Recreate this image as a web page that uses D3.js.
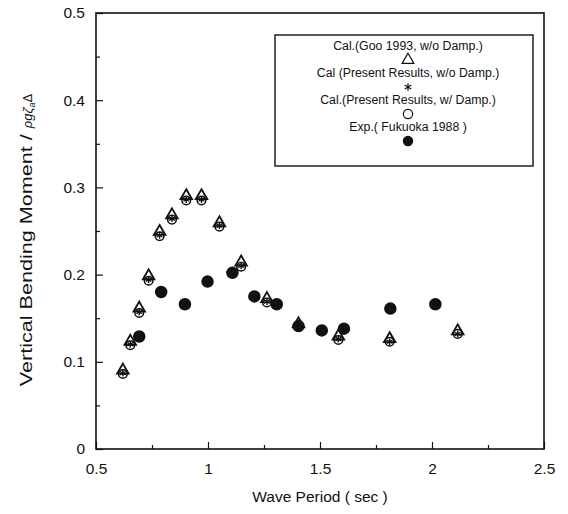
<!DOCTYPE html>
<html>
<head>
<meta charset="utf-8">
<script src="https://cdn.jsdelivr.net/npm/d3@7"></script>
<style>
  body { margin: 0; background: #fff; }
  text { font-family: "Liberation Sans", Arial, sans-serif; fill: #111; }
</style>
</head>
<body>
<div id="chart"></div>
<script>
const WIDTH = 568;
const HEIGHT = 514;
const MARGIN = { TOP: 13, BOTTOM: 65, LEFT: 96, RIGHT: 24 };

// calculated results share the same wave periods
const periods_cal = [0.62, 0.653, 0.693, 0.735, 0.784, 0.839, 0.903, 0.971, 1.051, 1.148, 1.263, 1.404, 1.582, 1.811, 2.115];
const goo_nodamp = [0.088, 0.121, 0.159, 0.196, 0.247, 0.266, 0.288, 0.288, 0.257, 0.212, 0.170, 0.141, 0.127, 0.124, 0.133];
const present_nodamp = [0.087, 0.120, 0.157, 0.194, 0.245, 0.264, 0.286, 0.286, 0.256, 0.210, 0.169, 0.140, 0.126, 0.123, 0.132];
const present_damp = [0.086, 0.119, 0.156, 0.193, 0.244, 0.263, 0.285, 0.285, 0.255, 0.209, 0.168, 0.140, 0.125, 0.123, 0.132];

const periods_exp = [0.693, 0.791, 0.897, 0.998, 1.109, 1.207, 1.307, 1.404, 1.508, 1.607, 1.814, 2.015];
const fukuoka_exp = [0.129, 0.180, 0.166, 0.192, 0.202, 0.175, 0.166, 0.141, 0.136, 0.138, 0.161, 0.166];

const x_ticks = [0.5, 1, 1.5, 2, 2.5];
const y_ticks = [0, 0.1, 0.2, 0.3, 0.4, 0.5];
const x_minor = [0.75, 1.25, 1.75, 2.25];
const y_minor = [0.05, 0.15, 0.25, 0.35, 0.45];

const legend_labels = [
  'Cal.(Goo 1993, w/o Damp.)',
  'Cal (Present Results, w/o Damp.)',
  'Cal.(Present Results, w/ Damp.)',
  'Exp.( Fukuoka 1988 )'
];

const w = WIDTH - MARGIN.LEFT - MARGIN.RIGHT;
const h = HEIGHT - MARGIN.TOP - MARGIN.BOTTOM;

const svg = d3.select('#chart').append('svg')
    .attr('width', WIDTH)
    .attr('height', HEIGHT);

const g = svg.append('g')
    .attr('transform', `translate(${MARGIN.LEFT}, ${MARGIN.TOP})`);

const xscale = d3.scaleLinear().domain([0.5, 2.5]).range([0, w]);
const yscale = d3.scaleLinear().domain([0, 0.5]).range([h, 0]);

// frame
g.append('rect')
    .attr('width', w).attr('height', h)
    .attr('fill', 'none').attr('stroke', '#111').attr('stroke-width', 1.6);

// axes, ticks pointing inward
const xAxis = g.append('g').attr('transform', `translate(0, ${h})`)
    .call(d3.axisBottom(xscale).tickValues(x_ticks).tickSize(-7).tickPadding(12)
          .tickFormat(d3.format('~g')));
g.append('g').attr('transform', `translate(0, ${h})`)
    .call(d3.axisBottom(xscale).tickValues(x_minor).tickSize(-4).tickFormat(''));

const yAxis = g.append('g')
    .call(d3.axisLeft(yscale).tickValues(y_ticks).tickSize(-7).tickPadding(11)
          .tickFormat(d3.format('~g')));
g.append('g')
    .call(d3.axisLeft(yscale).tickValues(y_minor).tickSize(-4).tickFormat(''));

g.selectAll('.domain').remove();
g.selectAll('.tick line').attr('stroke', '#111').attr('stroke-width', 1.2);
g.selectAll('.tick text').style('font-size', '15.5px').attr('fill', '#111');
xAxis.selectAll('.tick text').attr('dy', '0.85em');

// axis titles
svg.append('text')
    .attr('x', MARGIN.LEFT + w / 2)
    .attr('y', 502)
    .attr('text-anchor', 'middle')
    .style('font-size', '15.5px')
    .text('Wave Period ( sec )');

const ytitle = svg.append('text')
    .attr('transform', 'translate(32, 240) rotate(-90)')
    .attr('text-anchor', 'middle')
    .style('font-size', '16px');
ytitle.append('tspan').attr('textLength', 252).attr('lengthAdjust', 'spacingAndGlyphs')
    .text('Vertical Bending Moment /');
ytitle.append('tspan').style('font-style', 'italic').style('font-size', '13px').attr('dx', 6).text('ρgζ');
ytitle.append('tspan').style('font-style', 'italic').style('font-size', '9px').attr('dy', 3).text('a');
ytitle.append('tspan').style('font-size', '13px').attr('dy', -3).text('Δ');

// marker drawing
const triangle = d3.symbol().type(d3.symbolTriangle).size(58);
const asterisk = d3.symbol().type(d3.symbolAsterisk).size(30);

function drawSeries(layer, kind, xs, ys) {
  const data = xs.map((t, i) => ({ t: t, v: ys[i] }));
  if (kind === 'tri') {
    layer.selectAll(null).data(data).enter().append('path')
        .attr('d', triangle)
        .attr('transform', d => `translate(${xscale(d.t)}, ${yscale(d.v) - 2})`)
        .attr('fill', 'none').attr('stroke', '#111').attr('stroke-width', 1.8);
  } else if (kind === 'star') {
    layer.selectAll(null).data(data).enter().append('path')
        .attr('d', asterisk)
        .attr('transform', d => `translate(${xscale(d.t)}, ${yscale(d.v)})`)
        .attr('fill', 'none').attr('stroke', '#111').attr('stroke-width', 1.4);
  } else {
    layer.selectAll(null).data(data).enter().append('circle')
        .attr('cx', d => xscale(d.t))
        .attr('cy', d => yscale(d.v))
        .attr('r', kind === 'dot' ? 5.5 : 4.3)
        .attr('fill', kind === 'dot' ? '#111' : 'none')
        .attr('stroke', '#111').attr('stroke-width', 1.5);
  }
}

const marks = g.append('g');
drawSeries(marks, 'tri', periods_cal, goo_nodamp);
drawSeries(marks, 'star', periods_cal, present_nodamp);
drawSeries(marks, 'circ', periods_cal, present_damp);
drawSeries(marks, 'dot', periods_exp, fukuoka_exp);

// legend box
const legend = svg.append('g').attr('transform', 'translate(275, 35)');
legend.append('rect')
    .attr('width', 258).attr('height', 131)
    .attr('fill', '#fff').attr('stroke', '#111').attr('stroke-width', 1.4);

const kinds = ['tri', 'star', 'circ', 'dot'];
const cx = 133;
legend_labels.forEach((lab, i) => {
  const y0 = 15 + i * 27;
  legend.append('text')
      .attr('x', cx).attr('y', y0)
      .attr('text-anchor', 'middle')
      .style('font-size', '12.3px')
      .text(lab);
  const sym = legend.append('g').attr('transform', `translate(${cx}, ${y0 + 10})`);
  if (kinds[i] === 'tri') {
    sym.append('path').attr('d', d3.symbol().type(d3.symbolTriangle).size(60)).attr('fill', 'none')
        .attr('stroke', '#111').attr('stroke-width', 1.2);
  } else if (kinds[i] === 'star') {
    sym.append('path').attr('d', d3.symbol().type(d3.symbolAsterisk).size(40)).attr('fill', 'none')
        .attr('stroke', '#111').attr('stroke-width', 1.2);
  } else {
    sym.append('circle').attr('r', 4.6)
        .attr('fill', kinds[i] === 'dot' ? '#111' : 'none')
        .attr('stroke', '#111').attr('stroke-width', 1.2);
  }
});
</script>
</body>
</html>
